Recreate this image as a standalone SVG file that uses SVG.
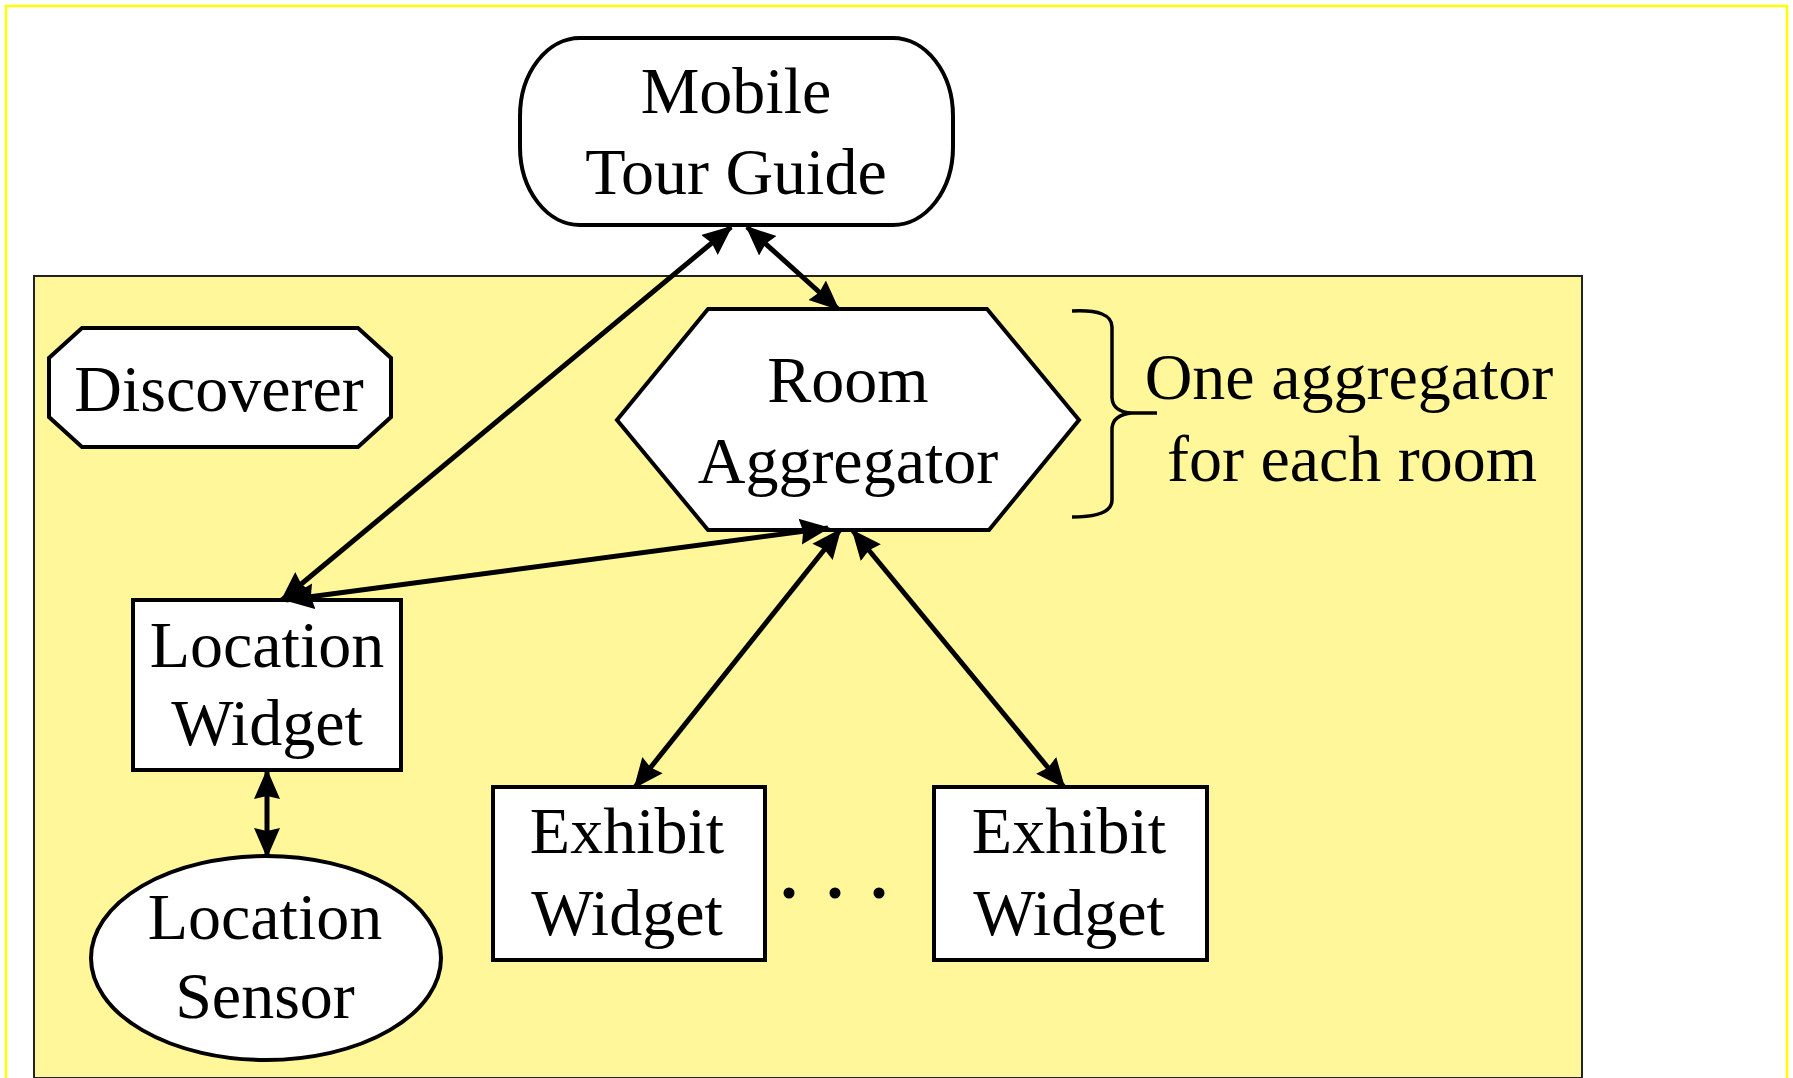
<svg xmlns="http://www.w3.org/2000/svg" width="1793" height="1078" viewBox="0 0 1793 1078">
  <style>
    .node { fill: #ffffff; stroke: #000000; stroke-width: 4; }
    .lbl { font-family: "Liberation Serif", "Times New Roman", serif; font-size: 66px; fill: #000000; text-anchor: middle; }
    .conn { stroke: #000000; stroke-width: 5; fill: none; marker-start: url(#head); marker-end: url(#head); }
  </style>
  <defs>
    <marker id="head" viewBox="0 0 30 28" refX="28" refY="14" markerWidth="30" markerHeight="28" markerUnits="userSpaceOnUse" orient="auto-start-reverse">
      <path d="M0,1 L30,14 L0,27 L3,14 z" fill="#000000"/>
    </marker>
  </defs>
  <rect x="0" y="0" width="1793" height="1078" fill="#ffffff"/>
  <rect id="frame" x="6" y="6" width="1781" height="1080" fill="none" stroke="#ffff00" stroke-width="2.5"/>
  <rect id="panel" x="34" y="276" width="1548" height="802" fill="#fff799" stroke="#222222" stroke-width="2"/>

  <g id="mobile-tour-guide">
    <rect class="node" x="520" y="38" width="433" height="187" rx="60" ry="78"/>
    <text class="lbl" x="736" y="113">Mobile</text>
    <text class="lbl" x="736" y="194">Tour Guide</text>
  </g>

  <g id="discoverer">
    <polygon class="node" points="82,328 358,328 391,358 391,417 358,447 82,447 49,417 49,358"/>
    <text class="lbl" x="219" y="411">Discoverer</text>
  </g>

  <g id="room-aggregator">
    <polygon class="node" points="708,309 987,309 1079,420 989,530 708,530 617,420"/>
    <text class="lbl" x="848" y="402">Room</text>
    <text class="lbl" x="848" y="483">Aggregator</text>
  </g>

  <g id="brace-note">
    <path d="M1072,311 Q1112,309 1112,327 L1112,398 Q1113,412 1132,413 L1157,413 M1132,413 Q1113,415 1112,428 L1112,500 Q1112,517 1072,517" fill="none" stroke="#000000" stroke-width="3.5"/>
    <text class="lbl" x="1349" y="399">One aggregator</text>
    <text class="lbl" x="1352" y="481">for each room</text>
  </g>

  <g id="location-widget">
    <rect class="node" x="133" y="600" width="268" height="170"/>
    <text class="lbl" x="267" y="667">Location</text>
    <text class="lbl" x="267" y="745">Widget</text>
  </g>

  <g id="location-sensor">
    <ellipse class="node" cx="266" cy="958" rx="175" ry="102"/>
    <text class="lbl" x="265" y="939">Location</text>
    <text class="lbl" x="265" y="1018">Sensor</text>
  </g>

  <g id="exhibit-widget-1">
    <rect class="node" x="493" y="787" width="272" height="173"/>
    <text class="lbl" x="627" y="853">Exhibit</text>
    <text class="lbl" x="627" y="935">Widget</text>
  </g>

  <g id="exhibit-widget-2">
    <rect class="node" x="934" y="787" width="273" height="173"/>
    <text class="lbl" x="1069" y="853">Exhibit</text>
    <text class="lbl" x="1069" y="935">Widget</text>
  </g>

  <g id="ellipsis" fill="#000000">
    <circle cx="789" cy="893" r="5.5"/>
    <circle cx="835" cy="893" r="5.5"/>
    <circle cx="879" cy="893" r="5.5"/>
  </g>

  <g id="connectors">
    <line class="conn" x1="731" y1="227" x2="282" y2="600"/>
    <line class="conn" x1="747" y1="227" x2="838" y2="309"/>
    <line class="conn" x1="828" y1="528" x2="286" y2="600"/>
    <line class="conn" x1="840" y1="530" x2="635" y2="787"/>
    <line class="conn" x1="853" y1="531" x2="1064" y2="787"/>
    <line class="conn" x1="267" y1="771" x2="267" y2="856"/>
  </g>
</svg>
